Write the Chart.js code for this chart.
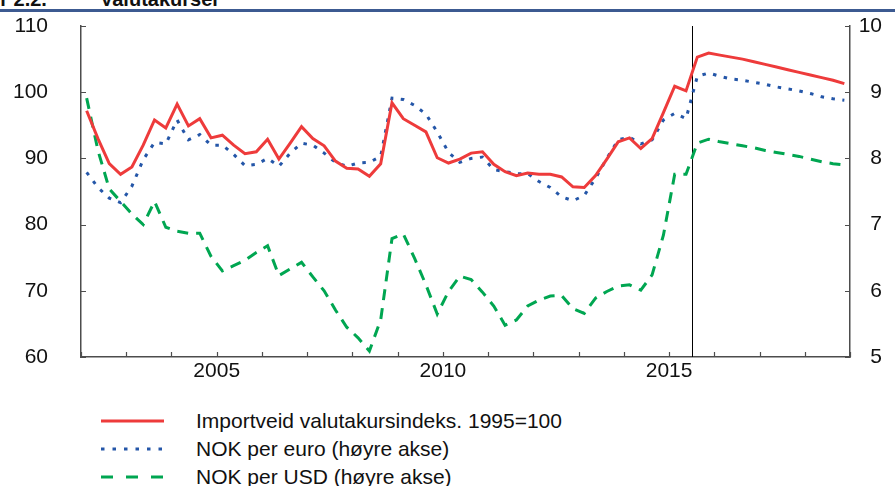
<!DOCTYPE html>
<html>
<head>
<meta charset="utf-8">
<script src="https://cdn.jsdelivr.net/npm/chart.js@4.4.0/dist/chart.umd.min.js"></script>
<style>
  body { margin: 0; background: #fff; font-family: "Liberation Sans", Arial, sans-serif; }
  .page { position: relative; width: 895px; height: 486px; overflow: hidden; background: #fff; }
  .title { position: absolute; top: -11px; font-weight: bold; font-size: 20px; line-height: 20px; white-space: pre; color: #111; }
  .rule { position: absolute; top: 9px; left: 0; width: 895px; height: 3px; background: #3c5a91; }
  .chart-box { position: absolute; left: 0; top: 0; width: 895px; height: 390px; }
  .legend { position: absolute; left: 101px; top: 407px; }
  .legend-row { display: flex; align-items: center; height: 28px; }
  .legend-row svg { width: 63px; height: 6px; margin-right: 32px; }
  .legend-row span { font-size: 21px; color: #111; }
</style>
</head>
<body>
<div class="page">
  <div class="title" style="left:-42px">Figur 2.2.</div>
  <div class="title" style="left:100px">Valutakurser</div>
  <div class="rule"></div>
  <div class="chart-box"><canvas id="lineChart" width="895" height="390"></canvas></div>
  <div class="legend">
    <div class="legend-row">
      <svg viewBox="0 0 63 6"><line x1="0" y1="3" x2="63" y2="3" stroke="#ee3b3b" stroke-width="3"/></svg>
      <span>Importveid valutakursindeks. 1995=100</span>
    </div>
    <div class="legend-row">
      <svg viewBox="0 0 63 6"><line x1="0" y1="3" x2="63" y2="3" stroke="#2456a8" stroke-width="3" stroke-dasharray="3.5 8"/></svg>
      <span>NOK per euro (høyre akse)</span>
    </div>
    <div class="legend-row">
      <svg viewBox="0 0 63 6"><line x1="0" y1="3" x2="63" y2="3" stroke="#00a651" stroke-width="3" stroke-dasharray="12 13"/></svg>
      <span>NOK per USD (høyre akse)</span>
    </div>
  </div>
</div>
<script>
const firstYear = 2002;
const lastYear = 2018;
const yearLabels = [2005, 2010, 2015];
const forecastStart = 2015.5;

// quarterly observations, 2002K1 - 2018K4
const quarters = [];
for (let y = firstYear; y <= lastYear; y++) {
  for (let q = 1; q <= 4; q++) quarters.push(y + (q - 0.5) / 4);
}

// importveid valutakursindeks, venstre akse
const importIndex = [
  97.2, 93.0, 89.2, 87.6,
  88.7, 92.0, 95.8, 94.6,
  98.2, 94.9, 96.0, 93.1,
  93.5, 92.0, 90.7, 91.0,
  92.9, 89.9, 92.3, 94.8,
  93.0, 91.9, 89.6, 88.5,
  88.4, 87.3, 89.2, 98.4,
  96.0, 95.0, 94.0, 90.1,
  89.3, 89.9, 90.8, 91.0,
  89.1, 88.0, 87.4, 87.8,
  87.6, 87.6, 87.2, 85.7,
  85.6, 87.4, 89.9, 92.5,
  93.1, 91.5, 93.0, 96.9,
  100.9, 100.2, 105.3, 105.9,
  105.6, 105.3, 105.0, 104.6,
  104.2, 103.8, 103.4, 103.0,
  102.6, 102.2, 101.8, 101.3,
];

// NOK per euro, høyre akse
const nokEuro = [
  7.79, 7.56, 7.40, 7.33,
  7.58, 7.98, 8.24, 8.22,
  8.58, 8.28, 8.36, 8.20,
  8.20, 8.06, 7.89, 7.91,
  8.00, 7.88, 8.08, 8.23,
  8.20, 8.08, 7.94, 7.88,
  7.93, 7.94, 8.03, 8.91,
  8.89, 8.80, 8.67, 8.40,
  8.09, 7.94, 8.00, 8.02,
  7.83, 7.80, 7.77, 7.77,
  7.65, 7.56, 7.42, 7.36,
  7.44, 7.70, 8.00, 8.28,
  8.32, 8.22, 8.28, 8.58,
  8.68, 8.60, 9.24, 9.29,
  9.24, 9.20, 9.18, 9.15,
  9.12, 9.08, 9.05, 9.02,
  8.98, 8.93, 8.90, 8.88,
];

// NOK per USD, høyre akse
const nokUsd = [
  8.91, 8.12, 7.54, 7.35,
  7.16, 7.00, 7.35, 6.96,
  6.90, 6.87, 6.87, 6.52,
  6.30, 6.38, 6.46, 6.58,
  6.68, 6.23, 6.33, 6.43,
  6.21, 6.00, 5.71, 5.45,
  5.29, 5.09, 5.56, 6.79,
  6.86, 6.49, 6.09, 5.65,
  5.99, 6.22, 6.17, 5.98,
  5.77, 5.48, 5.56, 5.77,
  5.86, 5.92, 5.93, 5.73,
  5.66, 5.89, 5.99, 6.07,
  6.09, 6.01, 6.24, 6.84,
  7.76, 7.76, 8.23, 8.29,
  8.25, 8.22, 8.19, 8.16,
  8.12, 8.09, 8.06, 8.03,
  7.99, 7.95, 7.92, 7.90,
];

const toPoints = (values) => values.map((v, i) => ({ x: quarters[i], y: v }));

const axisColor = '#4d4d4d';

// tick marks point inwards, so they are drawn here
const innerTicks = {
  id: 'innerTicks',
  afterDraw(chart) {
    const { ctx, chartArea: a, scales } = chart;
    ctx.save();
    ctx.strokeStyle = axisColor;
    ctx.lineWidth = 1.2;
    ctx.beginPath();
    scales.x.ticks.forEach((t) => {
      const px = Math.round(scales.x.getPixelForValue(t.value)) + 0.5;
      ctx.moveTo(px, a.bottom);
      ctx.lineTo(px, a.bottom - 5);
    });
    scales.y.ticks.forEach((t) => {
      const py = Math.round(scales.y.getPixelForValue(t.value)) + 0.5;
      ctx.moveTo(a.left, py);
      ctx.lineTo(a.left + 5, py);
    });
    scales.y1.ticks.forEach((t) => {
      const py = Math.round(scales.y1.getPixelForValue(t.value)) + 0.5;
      ctx.moveTo(a.right, py);
      ctx.lineTo(a.right - 5, py);
    });
    ctx.stroke();
    ctx.restore();
  },
};

const forecastLine = {
  id: 'forecastLine',
  beforeDatasetsDraw(chart) {
    const { ctx, chartArea: a, scales } = chart;
    const px = Math.round(scales.x.getPixelForValue(forecastStart)) + 0.5;
    ctx.save();
    ctx.strokeStyle = '#000';
    ctx.lineWidth = 1;
    ctx.beginPath();
    ctx.moveTo(px, a.top);
    ctx.lineTo(px, a.bottom);
    ctx.stroke();
    ctx.restore();
  },
};

Chart.defaults.font.family = "'Liberation Sans', Arial, sans-serif";
Chart.defaults.color = '#111';

new Chart(document.getElementById('lineChart'), {
  type: 'line',
  data: {
    datasets: [
      {
        label: 'Importveid valutakursindeks. 1995=100',
        data: toPoints(importIndex),
        yAxisID: 'y',
        borderColor: '#ee3b3b',
        borderWidth: 3,
      },
      {
        label: 'NOK per euro (høyre akse)',
        data: toPoints(nokEuro),
        yAxisID: 'y1',
        borderColor: '#2456a8',
        borderWidth: 3,
        borderDash: [3.5, 7.5],
      },
      {
        label: 'NOK per USD (høyre akse)',
        data: toPoints(nokUsd),
        yAxisID: 'y1',
        borderColor: '#00a651',
        borderWidth: 3,
        borderDash: [11, 8],
      },
    ],
  },
  options: {
    responsive: false,
    animation: false,
    layout: { padding: { top: 26, right: 13, left: 0, bottom: 0 } },
    elements: { point: { radius: 0 }, line: { tension: 0, borderCapStyle: 'butt' } },
    plugins: { legend: { display: false }, tooltip: { enabled: false } },
    scales: {
      x: {
        type: 'linear',
        min: firstYear,
        max: lastYear + 1,
        afterFit: (s) => { s.height = 33; },
        grid: { display: false, drawTicks: false },
        border: { display: true, color: axisColor, width: 1.5 },
        ticks: {
          stepSize: 1,
          autoSkip: false,
          maxRotation: 0,
          padding: 2,
          font: { size: 21 },
          callback: (v) => (yearLabels.includes(v) ? String(v) : ''),
        },
      },
      y: {
        position: 'left',
        min: 60,
        max: 110,
        // wide label gap, but keep the plot top/bottom where they are
        afterFit: (s) => { s.width = 81; s.paddingTop = 0; s.paddingBottom = 0; },
        grid: { display: false, drawTicks: false },
        border: { display: true, color: axisColor, width: 1.5 },
        ticks: { stepSize: 10, padding: 33, font: { size: 21 } },
      },
      y1: {
        position: 'right',
        min: 5,
        max: 10,
        afterFit: (s) => { s.width = 32; s.paddingTop = 0; s.paddingBottom = 0; },
        grid: { display: false, drawTicks: false },
        border: { display: true, color: axisColor, width: 1.5 },
        ticks: { stepSize: 1, crossAlign: 'far', font: { size: 21 } },
      },
    },
  },
  plugins: [innerTicks, forecastLine],
});
</script>
</body>
</html>
